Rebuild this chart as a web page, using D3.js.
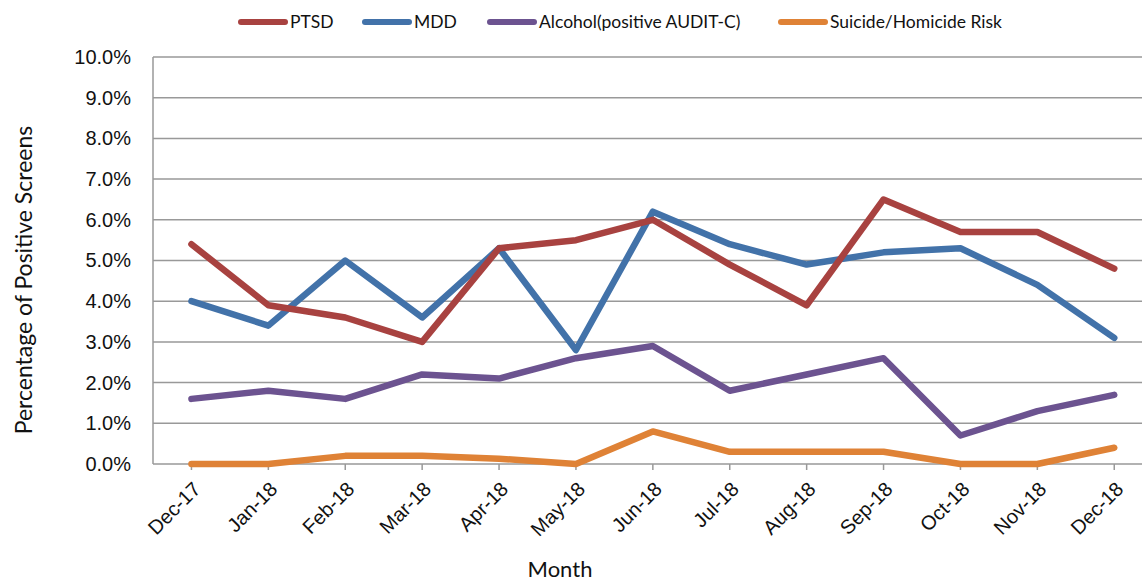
<!DOCTYPE html>
<html>
<head>
<meta charset="utf-8">
<script src="https://cdn.jsdelivr.net/npm/d3@7"></script>
<style>
  body { margin: 0; background: #fff; }
  svg { display: block; font-family: "Lato", "Open Sans", sans-serif; }
  .grid line { stroke: #999; stroke-width: 1.5; }
  .axis path, .axis line { stroke: #999; stroke-width: 1.5; }
  .axis text { fill: #111; font-size: 20px; }
</style>
</head>
<body>
<svg width="1142" height="583"></svg>
<script>

var months = ["Dec-17","Jan-18","Feb-18","Mar-18","Apr-18","May-18","Jun-18",
              "Jul-18","Aug-18","Sep-18","Oct-18","Nov-18","Dec-18"];

var ptsd    = [5.4, 3.9, 3.6, 3.0, 5.3, 5.5, 6.0, 4.9, 3.9, 6.5, 5.7, 5.7, 4.8];
var mdd     = [4.0, 3.4, 5.0, 3.6, 5.3, 2.8, 6.2, 5.4, 4.9, 5.2, 5.3, 4.4, 3.1];
var alcohol = [1.6, 1.8, 1.6, 2.2, 2.1, 2.6, 2.9, 1.8, 2.2, 2.6, 0.7, 1.3, 1.7];
var suicide = [0.0, 0.0, 0.2, 0.2, 0.13, 0.0, 0.8, 0.3, 0.3, 0.3, 0.0, 0.0, 0.4];

var yTicks = [0,1,2,3,4,5,6,7,8,9,10];

var series = [
  {name: "PTSD", values: ptsd, color: "#A84240"},
  {name: "MDD", values: mdd, color: "#4272A9"},
  {name: "Alcohol(positive AUDIT-C)", values: alcohol, color: "#6C5390"},
  {name: "Suicide/Homicide Risk", values: suicide, color: "#DF8236"}
];

var svg = d3.select("svg");

var plotLeft = 153, plotTop = 57, plotBottom = 464;

// band is wider than the window on purpose, right side gets cut off like the original
var x = d3.scaleBand()
    .domain(months)
    .range([plotLeft, plotLeft + 13 * 76.9]);

var y = d3.scaleLinear()
    .domain([0, 10])
    .range([plotBottom, plotTop]);

// gridlines
svg.append("g")
    .attr("class", "grid")
  .selectAll("line")
  .data(yTicks.slice(1))
  .enter().append("line")
    .attr("x1", plotLeft)
    .attr("x2", 1142)
    .attr("y1", function(d) { return y(d); })
    .attr("y2", function(d) { return y(d); });

// y axis
var yAxis = svg.append("g")
    .attr("class", "axis")
    .attr("transform", "translate(" + plotLeft + ",0)")
    .call(d3.axisLeft(y).tickValues(yTicks).tickSize(0).tickPadding(22)
      .tickFormat(function(d) { return d.toFixed(1) + "%"; }));
yAxis.select(".domain").attr("d", "M0," + plotTop + "V" + plotBottom);

// x axis
var xAxis = svg.append("g")
    .attr("class", "axis")
    .attr("transform", "translate(0," + plotBottom + ")")
    .call(d3.axisBottom(x).tickSizeOuter(0).tickSize(6));
xAxis.select(".domain").attr("d", "M" + plotLeft + ",0H1142");
xAxis.selectAll("text")
    .attr("text-anchor", "end")
    .attr("dy", "0.35em")
    .attr("transform", "translate(-1,15) rotate(-45)");

// lines
var line = d3.line()
    .x(function(d, i) { return x(months[i]) + x.bandwidth() / 2; })
    .y(function(d) { return y(d); });

svg.append("g").selectAll("path")
  .data(series.slice().reverse())
  .enter().append("path")
    .attr("fill", "none")
    .attr("stroke", function(d) { return d.color; })
    .attr("stroke-width", 6.5)
    .attr("stroke-linecap", "round")
    .attr("stroke-linejoin", "round")
    .attr("d", function(d) { return line(d.values); });

// legend
var legendX = [238, 362, 487, 778];
var legend = svg.append("g").selectAll("g")
  .data(series)
  .enter().append("g")
    .attr("transform", function(d, i) { return "translate(" + legendX[i] + ",22)"; });

legend.append("line")
    .attr("x1", 3).attr("x2", 47)
    .attr("stroke", function(d) { return d.color; })
    .attr("stroke-width", 6)
    .attr("stroke-linecap", "round");

legend.append("text")
    .attr("x", 52)
    .attr("dy", "0.35em")
    .style("font-size", "17.5px")
    .style("fill", "#111")
    .text(function(d) { return d.name; });

// axis titles
svg.append("text")
    .attr("transform", "translate(32,280) rotate(-90)")
    .attr("text-anchor", "middle")
    .style("font-size", "23px")
    .style("fill", "#111")
    .text("Percentage of Positive Screens");

svg.append("text")
    .attr("x", 560)
    .attr("y", 577)
    .attr("text-anchor", "middle")
    .style("font-size", "22px")
    .style("fill", "#111")
    .text("Month");

</script>
</body>
</html>
